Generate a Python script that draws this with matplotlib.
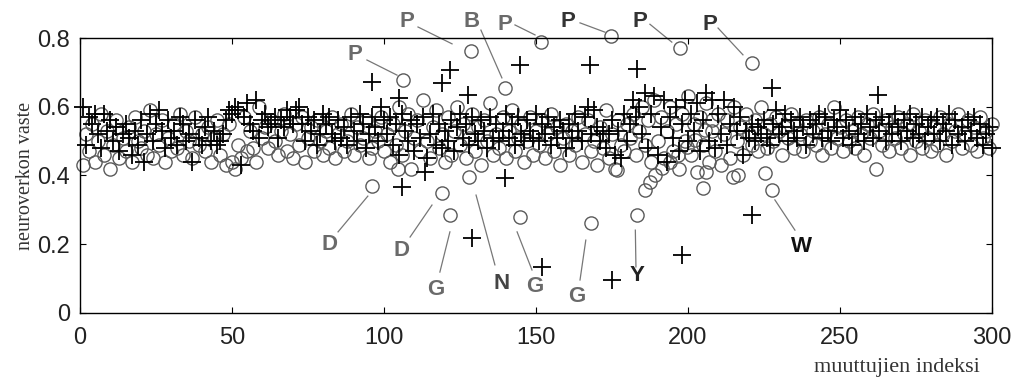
import matplotlib
matplotlib.use('Agg')
import matplotlib.pyplot as plt
import numpy as np

# network response, one circle and one plus per variable index
circ_y = [
    0.43, 0.52, 0.47, 0.55, 0.44, 0.50, 0.58, 0.46, 0.53, 0.42,
    0.49, 0.56, 0.45, 0.51, 0.47, 0.54, 0.44, 0.57, 0.50, 0.48,
    0.53, 0.46, 0.59, 0.45, 0.52, 0.49, 0.56, 0.44, 0.51, 0.47,
    0.55, 0.48, 0.58, 0.46, 0.53, 0.50, 0.45, 0.57, 0.49, 0.52,
    0.47, 0.54, 0.44, 0.51, 0.56, 0.46, 0.52, 0.43, 0.55, 0.44,
    0.42, 0.49, 0.45, 0.57, 0.47, 0.53, 0.48, 0.44, 0.60, 0.51,
    0.54, 0.48, 0.56, 0.50, 0.46, 0.53, 0.58, 0.47, 0.52, 0.45,
    0.55, 0.49, 0.57, 0.44, 0.51, 0.54, 0.47, 0.56, 0.50, 0.46,
    0.53, 0.48, 0.57, 0.45, 0.52, 0.55, 0.47, 0.50, 0.58, 0.46,
    0.54, 0.49, 0.51, 0.56, 0.45, 0.48, 0.53, 0.50, 0.57, 0.47,
    0.52, 0.44, 0.55, 0.49, 0.60, 0.46, 0.53, 0.58, 0.42, 0.51,
    0.56, 0.47, 0.62, 0.50, 0.45, 0.54, 0.59, 0.48, 0.52, 0.44,
    0.57, 0.46, 0.53, 0.60, 0.49, 0.55, 0.45, 0.51, 0.58, 0.47,
    0.54, 0.43, 0.56, 0.50, 0.61, 0.46, 0.52, 0.48, 0.57, 0.45,
    0.53, 0.59, 0.47, 0.51, 0.55, 0.44, 0.50, 0.57, 0.46, 0.53,
    0.49, 0.56, 0.45, 0.52, 0.58, 0.47, 0.54, 0.43, 0.51, 0.55,
    0.46, 0.53, 0.49, 0.57, 0.44, 0.52, 0.56, 0.47, 0.50, 0.43,
    0.54, 0.48, 0.59, 0.45, 0.52, 0.42, 0.56, 0.49, 0.47, 0.55,
    0.51, 0.58, 0.46, 0.53, 0.60, 0.49, 0.56, 0.44, 0.62, 0.50,
    0.57, 0.45, 0.53, 0.60, 0.47, 0.55, 0.42, 0.58, 0.50, 0.63,
    0.46, 0.55, 0.41, 0.57, 0.49, 0.61, 0.44, 0.53, 0.47, 0.58,
    0.43, 0.52, 0.56, 0.45, 0.60, 0.50, 0.54, 0.46, 0.58, 0.52,
    0.49, 0.56, 0.47, 0.60, 0.52, 0.48, 0.55, 0.50, 0.57, 0.53,
    0.46, 0.54, 0.51, 0.58, 0.48, 0.55, 0.52, 0.47, 0.56, 0.50,
    0.53, 0.49, 0.57, 0.46, 0.52, 0.55, 0.48, 0.60, 0.51, 0.54,
    0.47, 0.56, 0.50, 0.53, 0.48, 0.57, 0.52, 0.46, 0.55, 0.51,
    0.58, 0.42, 0.53, 0.49, 0.56, 0.47, 0.54, 0.51, 0.57, 0.48,
    0.52, 0.55, 0.46, 0.58, 0.50, 0.53, 0.48, 0.56, 0.51, 0.47,
    0.54, 0.49, 0.57, 0.52, 0.46, 0.55, 0.50, 0.53, 0.58, 0.48,
    0.52, 0.56, 0.49, 0.54, 0.47, 0.57, 0.51, 0.53, 0.48, 0.55,
]
plus_y = [
    0.60, 0.49, 0.57, 0.55, 0.58, 0.52, 0.48, 0.58, 0.53, 0.56,
    0.50, 0.54, 0.47, 0.52, 0.55, 0.51, 0.46, 0.53, 0.49, 0.56,
    0.44, 0.52, 0.58, 0.50, 0.55, 0.59, 0.53, 0.48, 0.56, 0.51,
    0.53, 0.49, 0.57, 0.55, 0.50, 0.52, 0.44, 0.56, 0.51, 0.49,
    0.54, 0.57, 0.50, 0.53, 0.49, 0.50, 0.52, 0.56, 0.59, 0.58,
    0.60, 0.59, 0.43, 0.57, 0.61, 0.55, 0.53, 0.62, 0.51, 0.56,
    0.58, 0.54, 0.55, 0.57, 0.51, 0.56, 0.54, 0.59, 0.57, 0.55,
    0.59, 0.60, 0.55, 0.50, 0.57, 0.53, 0.56, 0.49, 0.52, 0.58,
    0.55, 0.57, 0.52, 0.50, 0.56, 0.51, 0.54, 0.49, 0.57, 0.53,
    0.50, 0.58, 0.55, 0.48, 0.52, 0.57, 0.54, 0.50, 0.60, 0.56,
    0.52, 0.57, 0.49, 0.55, 0.46, 0.58, 0.53, 0.50, 0.56, 0.47,
    0.55, 0.51, 0.57, 0.45, 0.52, 0.58, 0.49, 0.55, 0.48, 0.53,
    0.50, 0.56, 0.47, 0.54, 0.58, 0.51, 0.55, 0.49, 0.57, 0.52,
    0.50, 0.56, 0.53, 0.48, 0.57, 0.51, 0.55, 0.50, 0.53, 0.58,
    0.51, 0.55, 0.49, 0.57, 0.52, 0.50, 0.56, 0.53, 0.51, 0.58,
    0.50, 0.55, 0.52, 0.57, 0.49, 0.54, 0.51, 0.56, 0.53, 0.48,
    0.55, 0.51, 0.58, 0.53, 0.50, 0.57, 0.60, 0.52, 0.59, 0.54,
    0.50, 0.53, 0.48, 0.52, 0.56, 0.46, 0.53, 0.45, 0.58, 0.50,
    0.55, 0.62, 0.57, 0.60, 0.52, 0.64, 0.48, 0.58, 0.63, 0.46,
    0.54, 0.62, 0.44, 0.57, 0.51, 0.60, 0.47, 0.55, 0.62, 0.50,
    0.58, 0.53, 0.61, 0.47, 0.56, 0.64, 0.50, 0.62, 0.48, 0.58,
    0.52, 0.62, 0.49, 0.55, 0.60, 0.53, 0.57, 0.46, 0.53, 0.51,
    0.55, 0.50, 0.54, 0.52, 0.56, 0.51, 0.49, 0.55, 0.59, 0.52,
    0.54, 0.58, 0.50, 0.56, 0.53, 0.51, 0.57, 0.54, 0.49, 0.56,
    0.52, 0.55, 0.58, 0.51, 0.57, 0.53, 0.50, 0.56, 0.54, 0.59,
    0.51, 0.56, 0.53, 0.49, 0.57, 0.52, 0.55, 0.50, 0.58, 0.54,
    0.51, 0.56, 0.53, 0.57, 0.50, 0.55, 0.52, 0.58, 0.54, 0.50,
    0.56, 0.53, 0.58, 0.51, 0.55, 0.52, 0.57, 0.50, 0.54, 0.56,
    0.52, 0.57, 0.50, 0.55, 0.53, 0.58, 0.49, 0.56, 0.52, 0.54,
    0.50, 0.56, 0.53, 0.57, 0.51, 0.55, 0.49, 0.52, 0.54, 0.48,
]
index = np.arange(1, len(circ_y) + 1)

# circles outside the main band (outliers and the dipping chain near 185-230)
circ_extra_x = [106.2, 128.6, 139.8, 151.6, 174.7, 197.4, 221.0, 96.0, 119.0,
                121.7, 128.0, 144.7, 168.0, 183.2, 227.6, 225.3, 104.6,
                185.9, 187.5, 189.1, 191.4, 194.0, 196.7, 199.7, 202.3,
                205.6, 207.9, 205.0, 206.0, 214.8, 216.4, 176.6]
circ_extra_y = [0.678, 0.762, 0.654, 0.789, 0.806, 0.771, 0.727, 0.369, 0.349,
                0.285, 0.396, 0.280, 0.262, 0.285, 0.358, 0.407, 0.420,
                0.358, 0.381, 0.401, 0.422, 0.439, 0.460, 0.483, 0.503,
                0.532, 0.561, 0.364, 0.410, 0.396, 0.400, 0.416]

plus_extra_x = [96.0, 121.7, 119.0, 127.6, 144.7, 167.8, 183.2, 105.0, 113.5,
                139.8, 106.0, 128.9, 152.0, 175.0, 198.0, 221.0, 262.5, 227.6]
plus_extra_y = [0.672, 0.707, 0.669, 0.634, 0.721, 0.721, 0.710, 0.624, 0.410,
                0.392, 0.367, 0.218, 0.134, 0.096, 0.169, 0.285, 0.634, 0.654]

# labels: letter, text position, line start, line end, colour
labels = ['P', 'P', 'B', 'P', 'P', 'P', 'P',
          'D', 'D', 'G', 'N', 'G', 'G', 'Y', 'W']
label_x = [90.5, 107.6, 128.9, 139.8, 160.5, 184.2, 207.2,
           82.2, 105.9, 117.1, 138.8, 149.7, 163.5, 183.2, 237.5]
label_y = [0.751, 0.847, 0.847, 0.838, 0.847, 0.847, 0.838,
           0.198, 0.183, 0.067, 0.087, 0.076, 0.047, 0.110, 0.192]
line_x0 = [94.4, 111.2, 131.9, 143.1, 164.5, 187.5, 209.9,
           84.9, 108.6, 118.4, 136.5, 148.7, 164.5, 182.9, 235.2]
line_y0 = [0.736, 0.832, 0.823, 0.838, 0.844, 0.840, 0.829,
           0.236, 0.221, 0.119, 0.140, 0.125, 0.096, 0.134, 0.241]
line_x1 = [104.3, 122.4, 138.8, 149.7, 172.7, 194.7, 218.1,
           94.7, 115.8, 121.7, 130.3, 143.8, 166.4, 182.7, 228.6]
line_y1 = [0.692, 0.783, 0.684, 0.809, 0.817, 0.788, 0.751,
           0.340, 0.314, 0.236, 0.343, 0.236, 0.212, 0.241, 0.329]
label_col = ['#6a6a6a', '#6a6a6a', '#6a6a6a', '#6a6a6a', '#333333', '#333333', '#333333',
             '#6a6a6a', '#6a6a6a', '#6a6a6a', '#444444', '#6a6a6a', '#6a6a6a', '#222222', '#111111']

fig = plt.figure(figsize=(10.16, 3.77), dpi=100)
ax = fig.add_axes([0.0787, 0.1698, 0.8976, 0.7294])

ax.plot(index, circ_y, 'o', mfc='none', mec='#5a5a5a', ms=9.5, mew=1.0, clip_on=False)
ax.plot(circ_extra_x, circ_extra_y, 'o', mfc='none', mec='#5a5a5a', ms=9.5, mew=1.0, clip_on=False)
ax.plot(index, plus_y, '+', color='black', ms=12.5, mew=1.3, clip_on=False)
ax.plot(plus_extra_x, plus_extra_y, '+', color='black', ms=12.5, mew=1.3, clip_on=False)

for i in range(len(labels)):
    ax.plot([line_x0[i], line_x1[i]], [line_y0[i], line_y1[i]], color='#777777', lw=0.9, clip_on=False)
    ax.text(label_x[i], label_y[i], labels[i], color=label_col[i], fontsize=16,
            fontweight='bold', ha='center', va='center', family='Liberation Sans')

ax.set_xlim(0, 300)
ax.set_ylim(0, 0.8)
ax.set_xticks([0, 50, 100, 150, 200, 250, 300])
ax.set_yticks([0, 0.2, 0.4, 0.6, 0.8])
ax.set_yticklabels(['0', '0.2', '0.4', '0.6', '0.8'])
ax.tick_params(direction='in', length=4, top=True, right=True, labelsize=17,
               labelcolor='#222222')
ax.tick_params(axis='x', pad=10)
ax.tick_params(axis='y', pad=7)
for lab in ax.get_xticklabels() + ax.get_yticklabels():
    lab.set_family('Liberation Sans')
for s in ax.spines.values():
    s.set_linewidth(1.0)

ax.set_ylabel('neuroverkon vaste', family='Liberation Serif', fontsize=14.5, color='#333333', labelpad=2)
fig.text(0.883, 0.025, 'muuttujien indeksi', family='Liberation Serif', fontsize=16,
         color='#333333', ha='center', va='center')

fig.savefig('out.png', dpi=100)
